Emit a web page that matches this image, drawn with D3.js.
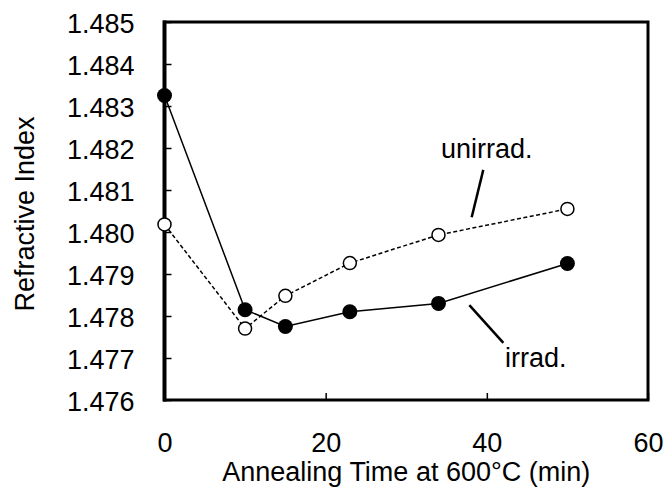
<!DOCTYPE html>
<html>
<head>
<meta charset="utf-8">
<script src="https://cdn.jsdelivr.net/npm/d3@7"></script>
<style>
  body { margin: 0; background: #fff; }
  text { font-family: "Liberation Sans", Arial, sans-serif; fill: #000; }
</style>
</head>
<body>
<div id="chart"></div>
<script>
// data
var times = [0, 10, 15, 23, 34, 50];
var irrad = [1.48325, 1.47815, 1.47775, 1.4781, 1.4783, 1.47925];
var unirrad = [1.48018, 1.4777, 1.47848, 1.47926, 1.47993, 1.48055];
var xTicks = [0, 20, 40, 60];
var yTicks = [1.476, 1.477, 1.478, 1.479, 1.480, 1.481, 1.482, 1.483, 1.484, 1.485];

var W = 664, H = 490;
var fs = 27;
var svg = d3.select("#chart").append("svg")
  .attr("width", W)
  .attr("height", H);

var x = d3.scaleLinear().domain([0, 60]).range([164.5, 648]);
var y = d3.scaleLinear().domain([1.476, 1.485]).range([400, 22]);

// axes, ticks pointing inwards
var gy = svg.append("g")
  .attr("transform", "translate(" + x(0) + ",0)")
  .call(d3.axisLeft(y).tickValues(yTicks).tickFormat(d3.format(".3f"))
    .tickSizeInner(-7).tickSizeOuter(0).tickPadding(30));
gy.select(".domain").remove();
gy.selectAll("line").attr("stroke", "#000").attr("stroke-width", 1.5);
gy.selectAll("text").attr("font-size", fs).attr("dy", "0.38em");

var gx = svg.append("g")
  .attr("transform", "translate(0," + y(1.476) + ")")
  .call(d3.axisBottom(x).tickValues(xTicks)
    .tickSizeInner(-7).tickSizeOuter(0).tickPadding(33));
gx.select(".domain").remove();
gx.selectAll("line").attr("stroke", "#000").attr("stroke-width", 1.5);
gx.selectAll("text").attr("font-size", fs);

// frame
svg.append("rect")
  .attr("x", x(0)).attr("y", y(1.485))
  .attr("width", x(60) - x(0)).attr("height", y(1.476) - y(1.485))
  .attr("fill", "none").attr("stroke", "#000").attr("stroke-width", 3);
svg.append("line")
  .attr("x1", x(0)).attr("x2", x(0))
  .attr("y1", y(1.485) - 1.5).attr("y2", y(1.476) + 1.5)
  .attr("stroke", "#000").attr("stroke-width", 4);

var line = d3.line()
  .x(function(d) { return x(d[0]); })
  .y(function(d) { return y(d[1]); });

var irradPts = times.map(function(t, i) { return [t, irrad[i]]; });
var unirradPts = times.map(function(t, i) { return [t, unirrad[i]]; });

svg.append("path").datum(unirradPts)
  .attr("d", line).attr("fill", "none")
  .attr("stroke", "#000").attr("stroke-width", 1.5)
  .attr("stroke-dasharray", "4,2.5");
svg.append("path").datum(irradPts)
  .attr("d", line).attr("fill", "none")
  .attr("stroke", "#000").attr("stroke-width", 1.5);

svg.selectAll(".open").data(unirradPts).enter().append("circle")
  .attr("cx", function(d) { return x(d[0]); })
  .attr("cy", function(d) { return y(d[1]); })
  .attr("r", 6.5)
  .attr("fill", "#fff").attr("stroke", "#000").attr("stroke-width", 1.5);
svg.selectAll(".filled").data(irradPts).enter().append("circle")
  .attr("cx", function(d) { return x(d[0]); })
  .attr("cy", function(d) { return y(d[1]); })
  .attr("r", 7.5)
  .attr("fill", "#000");

// annotations
svg.append("line")
  .attr("x1", x(39.56)).attr("y1", y(1.48148))
  .attr("x2", x(38.12)).attr("y2", y(1.48035))
  .attr("stroke", "#000").attr("stroke-width", 2.5);
svg.append("line")
  .attr("x1", x(37.83)).attr("y1", y(1.47826))
  .attr("x2", x(42.05)).attr("y2", y(1.47736))
  .attr("stroke", "#000").attr("stroke-width", 2.5);

svg.append("text")
  .attr("x", x(40)).attr("y", y(1.48176))
  .attr("text-anchor", "middle").attr("font-size", fs)
  .text("unirrad.");
svg.append("text")
  .attr("x", x(42.25)).attr("y", y(1.47679))
  .attr("font-size", fs)
  .text("irrad.");

// axis titles
svg.append("text")
  .attr("x", (x(0) + x(60)) / 2).attr("y", 481)
  .attr("text-anchor", "middle").attr("font-size", fs)
  .text("Annealing Time at 600\u00B0C (min)");
svg.append("text")
  .attr("transform", "translate(34,214) rotate(-90)")
  .attr("text-anchor", "middle").attr("font-size", fs)
  .text("Refractive Index");
</script>
</body>
</html>
